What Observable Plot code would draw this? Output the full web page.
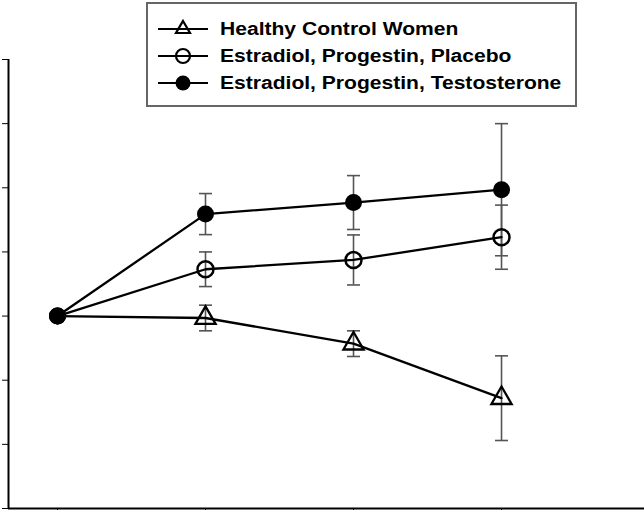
<!DOCTYPE html>
<html>
<head>
<meta charset="utf-8">
<script src="https://cdn.jsdelivr.net/npm/d3@7"></script>
<script src="https://cdn.jsdelivr.net/npm/@observablehq/plot@0.6"></script>
<style>
  html, body { margin: 0; padding: 0; background: #fff; }
  #wrap { position: relative; width: 644px; height: 510px; }
  #legend { position: absolute; left: 146px; top: 2px; width: 427px; height: 101px;
    border: 2px solid #666; background: #fff; font-family: "Liberation Sans", Arial, sans-serif;
    font-weight: bold; font-size: 18px; color: #000; }
  .row { position: absolute; left: 0; height: 24px; display: flex; align-items: center; white-space: nowrap; }
  .row svg { margin-left: 10px; margin-right: 10px; }
  .row span { display: inline-block; transform: scaleX(1.17); transform-origin: left center; }
</style>
</head>
<body>
<div id="wrap"><div id="chart"></div><div id="legend"></div></div>
<script>
// time points (x) and axis ticks
const times = [0, 1, 2, 3];
const xTicks = [0, 1, 2, 3];
const yTicks = [-3, -2, -1, 0, 1, 2, 3, 4];

// series names
const seriesNames = [
  "Healthy Control Women",
  "Estradiol, Progestin, Placebo",
  "Estradiol, Progestin, Testosterone"
];

// means and error half-widths (relative units, baseline 0)
const controlMean = [0, -0.03, -0.43, -1.28];
const controlErr  = [0, 0.20, 0.20, 0.66];
const placeboMean = [0, 0.73, 0.875, 1.23];
const placeboErr  = [0, 0.27, 0.39, 0.50];
const testoMean   = [0, 1.59, 1.77, 1.97];
const testoErr    = [0, 0.32, 0.42, 1.03];

const means = [controlMean, placeboMean, testoMean];
const errs = [controlErr, placeboErr, testoErr];

const rows = [];
seriesNames.forEach((s, i) => times.forEach((t, j) =>
  rows.push({series: s, idx: i, t, y: means[i][j], e: errs[i][j]})));
const errRows = rows.filter(d => d.e > 0);

const capSymbol = {draw(ctx) { ctx.moveTo(-6.5, 0); ctx.lineTo(6.5, 0); }};
const xDomain = [-0.331, 3.966];

const chart = Plot.plot({
  width: 644, height: 510,
  marginTop: 59, marginBottom: 2, marginLeft: 8, marginRight: 0,
  x: {domain: xDomain, ticks: xTicks, tickSize: 4, tickFormat: () => "", label: null},
  y: {domain: [-3, 4], ticks: yTicks, tickSize: 6, tickFormat: () => "", label: null},
  style: {color: "#000"},
  marks: [
    Plot.ruleX([xDomain[0]], {stroke: "#000", strokeWidth: 2}),
    Plot.ruleY([-3], {stroke: "#000", strokeWidth: 2}),
    Plot.ruleX(errRows, {x: "t", y1: d => d.y - d.e, y2: d => d.y + d.e, stroke: "#555", strokeWidth: 1.6}),
    Plot.dot(errRows, {x: "t", y: d => d.y - d.e, symbol: capSymbol, stroke: "#555", strokeWidth: 1.6, r: 4}),
    Plot.dot(errRows, {x: "t", y: d => d.y + d.e, symbol: capSymbol, stroke: "#555", strokeWidth: 1.6, r: 4}),
    Plot.line(rows, {x: "t", y: "y", z: "series", stroke: "#000", strokeWidth: 2.3}),
    Plot.dot(rows.filter(d => d.idx === 0 && d.t > 0), {x: "t", y: "y", symbol: "triangle", r: 7.5, stroke: "#000", strokeWidth: 2.3, fill: "none"}),
    Plot.dot(rows.filter(d => d.idx === 1 && d.t > 0), {x: "t", y: "y", symbol: "circle", r: 8, stroke: "#000", strokeWidth: 2.5, fill: "none"}),
    Plot.dot(rows.filter(d => d.idx === 2 || d.t === 0), {x: "t", y: "y", symbol: "circle", r: 8.5, fill: "#000", stroke: "none"})
  ]
});
document.getElementById("chart").appendChild(chart);

// legend
const legend = document.getElementById("legend");
const symbols = ["triangle", "open", "filled"];
const rowTops = [13, 40, 67];
seriesNames.forEach((name, i) => {
  const row = document.createElement("div");
  row.className = "row";
  row.style.top = rowTops[i] + "px";
  let sym;
  if (symbols[i] === "triangle") sym = '<path d="M25,4 L32,16 L18,16 Z" fill="none" stroke="#000" stroke-width="2.2"/>';
  else if (symbols[i] === "open") sym = '<circle cx="25" cy="12" r="7" fill="none" stroke="#000" stroke-width="2.2"/>';
  else sym = '<circle cx="25" cy="12" r="7.5" fill="#000"/>';
  row.innerHTML = '<svg width="52" height="24"><line x1="0" x2="50" y1="12" y2="12" stroke="#000" stroke-width="2.2"/>' + sym + '</svg><span>' + name + '</span>';
  legend.appendChild(row);
});
</script>
</body>
</html>
